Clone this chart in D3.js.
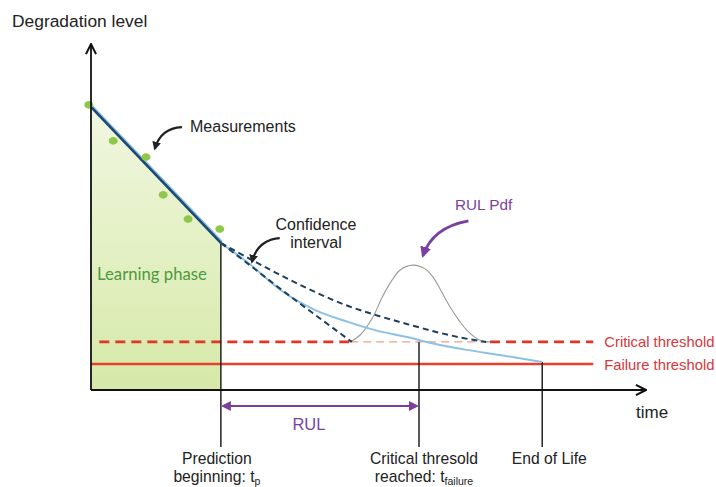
<!DOCTYPE html>
<html>
<head>
<meta charset="utf-8">
<script src="https://cdn.jsdelivr.net/npm/d3@7"></script>
<style>
  body { margin: 0; background: #fff; }
  svg text { font-family: "Liberation Sans", Arial, sans-serif; }
</style>
</head>
<body>
<div id="chart"></div>
<script>
// values (time and level both 0..100)
const measT = [-0.4, 4.0, 9.9, 13.0, 17.5, 23.2];
const measL = [82.4, 72.0, 67.3, 56.4, 49.4, 46.5];

const fitT = [0, 23.4];
const fitL = [81.8, 42.5];

const meanT = [23.4, 28.6, 34.4, 40.4, 46.3, 51.2, 56.9, 62.9, 67.7, 73.7, 81.3];
const meanL = [42.5, 36.4, 28.6, 23.1, 19.7, 17.3, 15.3, 13.0, 11.6, 10.1, 8.1];

const upperT = [23.4, 28.6, 34.4, 40.4, 45.8, 51.2, 56.9, 62.9, 68.8, 71.2];
const upperL = [42.5, 37.9, 33.0, 28.3, 24.6, 21.7, 19.1, 16.5, 14.5, 13.9];

const lowerT = [23.4, 28.6, 34.4, 40.4, 47.0];
const lowerL = [42.5, 36.1, 28.9, 21.7, 13.9];

const pdfT = [46.7, 48.5, 50.8, 52.4, 53.9, 55.7, 58.0, 60.2, 61.6, 63.2, 64.7, 66.5, 67.7, 69.4, 70.6, 71.9];
const pdfL = [13.9, 15.9, 21.1, 26.6, 30.9, 34.7, 36.1, 35.0, 32.7, 28.3, 24.0, 19.7, 17.3, 15.0, 14.1, 13.9];

const tP = 23.4, tFailure = 59.1, tEnd = 81.3;
const criticalLevel = 13.9, failureLevel = 7.5;
const thresholdEnd = 90.5;

const width = 716, height = 487;

const svg = d3.select('#chart').append('svg')
    .attr('width', width)
    .attr('height', height);

const x = d3.scaleLinear().domain([0, 100]).range([91, 646]);
const y = d3.scaleLinear().domain([0, 100]).range([390, 44]);

const zip = (a, b) => a.map((v, i) => [v, b[i]]);
const line = d3.line().x(d => x(d[0])).y(d => y(d[1]));
const smooth = d3.line().x(d => x(d[0])).y(d => y(d[1])).curve(d3.curveMonotoneX);

// defs: gradient + arrow heads
const defs = svg.append('defs');
const grad = defs.append('linearGradient').attr('id', 'learn')
    .attr('x1', 0).attr('y1', 0).attr('x2', 0).attr('y2', 1);
grad.append('stop').attr('offset', '0%').attr('stop-color', '#f1f7e0');
grad.append('stop').attr('offset', '100%').attr('stop-color', '#d6e9a8');

function marker(id, color, size) {
    defs.append('marker').attr('id', id)
        .attr('viewBox', '0 0 10 10').attr('refX', 8).attr('refY', 5)
        .attr('markerWidth', size).attr('markerHeight', size)
        .attr('orient', 'auto-start-reverse')
        .append('path').attr('d', 'M0,0 L10,5 L0,10 Z').attr('fill', color);
}
marker('headBlack', '#222', 4);
marker('headPurple', '#7b3fa0', 4);
marker('headRul', '#7b3fa0', 5);
defs.append('marker').attr('id', 'axisHead')
    .attr('viewBox', '0 0 10 10').attr('refX', 9).attr('refY', 5)
    .attr('markerWidth', 7).attr('markerHeight', 7)
    .attr('orient', 'auto')
    .append('path').attr('d', 'M1,1 L9,5 L1,9').attr('fill', 'none')
    .attr('stroke', '#111').attr('stroke-width', 1.6);

// learning phase area
svg.append('path')
    .datum([[0, 0], [fitT[0], fitL[0]], [fitT[1], fitL[1]], [tP, 0]])
    .attr('d', line)
    .attr('fill', 'url(#learn)');

svg.append('text')
    .attr('x', x(1.1)).attr('y', y(31.8))
    .attr('fill', '#4c9a3e')
    .style('font-family', 'Lato, "Open Sans", sans-serif')
    .style('font-size', '16.7px')
    .text('Learning phase');

// thresholds
const critColor = '#e0352b';
svg.append('path')
    .datum([[1.5, criticalLevel], [pdfT[0], criticalLevel]])
    .attr('d', line).attr('stroke', critColor).attr('stroke-width', 2.6)
    .attr('stroke-dasharray', '10,6').attr('fill', 'none');
svg.append('path')
    .datum([[pdfT[0], criticalLevel], [pdfT[pdfT.length - 1], criticalLevel]])
    .attr('d', line).attr('stroke', '#eea08a').attr('stroke-width', 1.4)
    .attr('stroke-dasharray', '8,5').attr('fill', 'none');
svg.append('path')
    .datum([[pdfT[pdfT.length - 1], criticalLevel], [thresholdEnd, criticalLevel]])
    .attr('d', line).attr('stroke', critColor).attr('stroke-width', 2.6)
    .attr('stroke-dasharray', '10,6').attr('fill', 'none');
svg.append('path')
    .datum([[0, failureLevel], [thresholdEnd, failureLevel]])
    .attr('d', line).attr('stroke', '#e8402d').attr('stroke-width', 2.4)
    .attr('fill', 'none');

svg.append('text').attr('x', x(thresholdEnd) + 11).attr('y', y(criticalLevel) + 5)
    .attr('fill', '#d8373c').style('font-size', '14.8px').text('Critical threshold');
svg.append('text').attr('x', x(thresholdEnd) + 11).attr('y', y(failureLevel) + 6)
    .attr('fill', '#d8373c').style('font-size', '14.8px').text('Failure threshold');

// event verticals
svg.append('line')
    .attr('x1', x(tP)).attr('x2', x(tP))
    .attr('y1', y(fitL[1])).attr('y2', 447)
    .attr('stroke', '#222').attr('stroke-width', 1.5);
svg.append('line')
    .attr('x1', x(tFailure)).attr('x2', x(tFailure))
    .attr('y1', y(criticalLevel)).attr('y2', 447)
    .attr('stroke', '#222').attr('stroke-width', 1.5);
svg.append('line')
    .attr('x1', x(tEnd)).attr('x2', x(tEnd))
    .attr('y1', y(meanL[meanL.length - 1])).attr('y2', 447)
    .attr('stroke', '#222').attr('stroke-width', 1.5);

// RUL pdf
svg.append('path')
    .datum(zip(pdfT, pdfL))
    .attr('d', d3.line().x(d => x(d[0])).y(d => y(d[1])).curve(d3.curveCatmullRom))
    .attr('fill', 'none').attr('stroke', '#9a9a9a').attr('stroke-width', 1.1);

// prediction mean
svg.append('path')
    .datum(zip(meanT, meanL))
    .attr('d', smooth)
    .attr('fill', 'none').attr('stroke', '#8cc0e4').attr('stroke-width', 2);

// confidence bounds
[zip(upperT, upperL), zip(lowerT, lowerL)].forEach(b => {
    svg.append('path').datum(b).attr('d', smooth)
        .attr('fill', 'none').attr('stroke', '#1c3f5e')
        .attr('stroke-width', 2).attr('stroke-dasharray', '6,4');
});

// fitted line over measurements
svg.append('path').datum(zip(fitT, fitL)).attr('d', line)
    .attr('stroke', '#8cc0e4').attr('stroke-width', 3.6).attr('fill', 'none')
    .attr('transform', 'translate(0.6,-0.6)');
svg.append('path').datum(zip(fitT, fitL)).attr('d', line)
    .attr('stroke', '#1b4a72').attr('stroke-width', 2.6).attr('fill', 'none');

// measurements
svg.selectAll('ellipse.meas').data(zip(measT, measL)).enter()
    .append('ellipse').attr('class', 'meas')
    .attr('cx', d => x(d[0])).attr('cy', d => y(d[1]))
    .attr('rx', 4.5).attr('ry', 3.8)
    .attr('fill', '#8fc74a');

// axes
svg.append('line')
    .attr('x1', x(0)).attr('y1', y(0)).attr('x2', x(0)).attr('y2', y(100))
    .attr('stroke', '#111').attr('stroke-width', 1.8).attr('marker-end', 'url(#axisHead)');
svg.append('line')
    .attr('x1', x(0)).attr('y1', y(0)).attr('x2', x(100)).attr('y2', y(0))
    .attr('stroke', '#111').attr('stroke-width', 1.8).attr('marker-end', 'url(#axisHead)');

svg.append('text').attr('x', 12).attr('y', 27)
    .attr('fill', '#222').style('font-size', '17.4px').text('Degradation level');
svg.append('text').attr('x', x(100) - 10).attr('y', 418)
    .attr('fill', '#222').style('font-size', '17px').text('time');

// RUL span
svg.append('line')
    .attr('x1', x(tP) + 2).attr('x2', x(tFailure) - 2)
    .attr('y1', 406).attr('y2', 406)
    .attr('stroke', '#7b3fa0').attr('stroke-width', 2)
    .attr('marker-start', 'url(#headRul)').attr('marker-end', 'url(#headRul)');
svg.append('text').attr('x', (x(tP) + x(tFailure)) / 2 - 11).attr('y', 430)
    .attr('text-anchor', 'middle').attr('fill', '#7b3fa0')
    .style('font-size', '16.5px').text('RUL');

// bottom labels
const bottom = svg.append('g').attr('fill', '#222').style('font-size', '15.7px')
    .attr('text-anchor', 'middle');
bottom.append('text').attr('x', x(tP) - 4).attr('y', 464).text('Prediction');
const b1 = bottom.append('text').attr('x', x(tP) - 4).attr('y', 482);
b1.append('tspan').text('beginning: t');
b1.append('tspan').attr('dy', 3).style('font-size', '10.5px').text('p');

bottom.append('text').attr('x', x(tFailure) + 5).attr('y', 464).text('Critical thresold');
const b2 = bottom.append('text').attr('x', x(tFailure) + 5).attr('y', 482);
b2.append('tspan').text('reached: t');
b2.append('tspan').attr('dy', 3).style('font-size', '10.5px').text('failure');

bottom.append('text').attr('x', x(tEnd) + 7).attr('y', 464).text('End of Life');

// annotations with curved arrows
const annot = svg.append('g').style('font-size', '16px');
annot.append('text').attr('x', 190).attr('y', 132).attr('fill', '#222').text('Measurements');
annot.append('text').attr('x', 316).attr('y', 230).attr('fill', '#222')
    .attr('text-anchor', 'middle').text('Confidence');
annot.append('text').attr('x', 316).attr('y', 248).attr('fill', '#222')
    .attr('text-anchor', 'middle').text('interval');
annot.append('text').attr('x', 455).attr('y', 210).attr('fill', '#7b3fa0')
    .style('font-size', '15.3px').text('RUL Pdf');

function curvedArrow(p0, c, p1, color, w, head) {
    svg.append('path')
        .attr('d', `M${x(p0[0])},${y(p0[1])} Q${x(c[0])},${y(c[1])} ${x(p1[0])},${y(p1[1])}`)
        .attr('fill', 'none').attr('stroke', color).attr('stroke-width', w)
        .attr('marker-end', `url(#${head})`);
}
curvedArrow([16.4, 76.0], [12.5, 75.7], [11.5, 69.7], '#222', 2.2, 'headBlack');
curvedArrow([34.0, 43.9], [30.0, 43.4], [29.0, 37.0], '#222', 2.2, 'headBlack');
curvedArrow([68.0, 48.9], [61.5, 47.0], [59.8, 38.8], '#7b3fa0', 2.8, 'headPurple');
</script>
</body>
</html>
